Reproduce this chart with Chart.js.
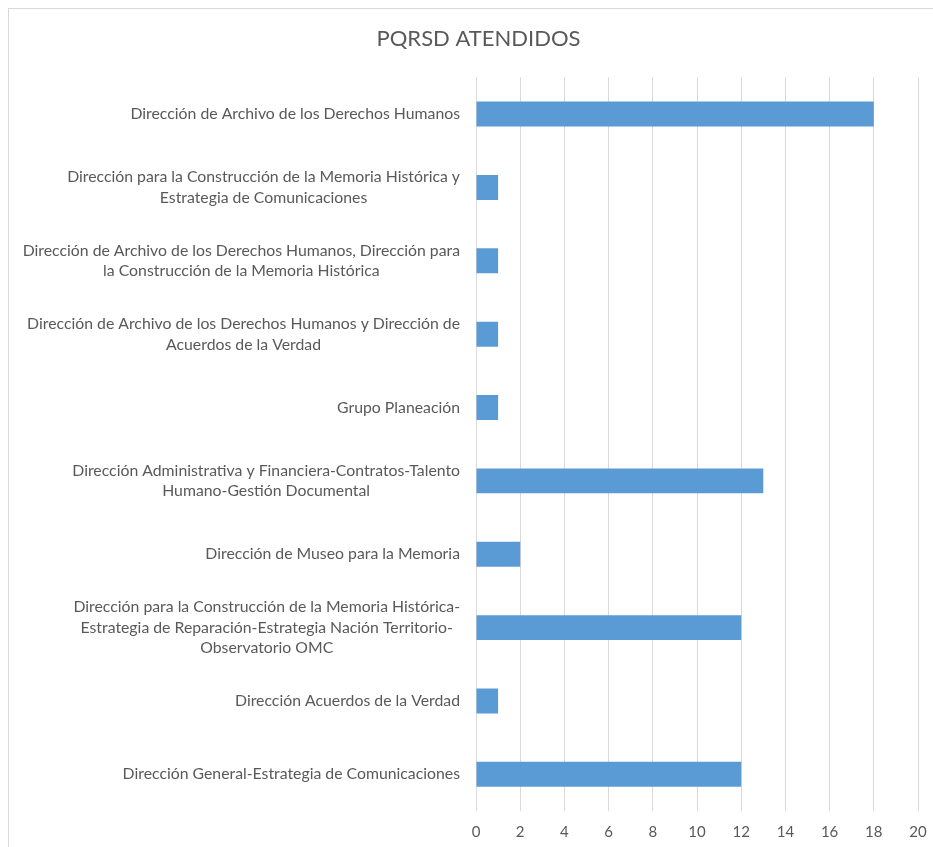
<!DOCTYPE html>
<html lang="es">
<head>
<meta charset="UTF-8">
<title>PQRSD ATENDIDOS</title>
<script src="https://cdn.jsdelivr.net/npm/chart.js"></script>
<style>
  html, body { margin: 0; padding: 0; background: #fff; overflow: hidden; }
  canvas { display: block; }
</style>
</head>
<body>
<canvas id="chart" width="933" height="847"></canvas>
<script>
const chartTitle = 'PQRSD ATENDIDOS';
const categories = [
  ['Dirección de Archivo de los Derechos Humanos'],
  ['Dirección para la Construcción de la Memoria Histórica y', 'Estrategia de Comunicaciones'],
  ['Dirección de Archivo de los Derechos Humanos, Dirección para', 'la Construcción de la Memoria Histórica'],
  ['Dirección de Archivo de los Derechos Humanos y Dirección de', 'Acuerdos de la Verdad'],
  ['Grupo Planeación'],
  ['Dirección Administrativa y Financiera-Contratos-Talento', 'Humano-Gestión Documental'],
  ['Dirección de Museo para la Memoria'],
  ['Dirección para la Construcción de la Memoria Histórica-', 'Estrategia de Reparación-Estrategia Nación Territorio-', 'Observatorio OMC'],
  ['Dirección Acuerdos de la Verdad'],
  ['Dirección General-Estrategia de Comunicaciones']
];
const attended = [18, 1, 1, 1, 1, 13, 2, 12, 1, 12];
const xMin = 0, xMax = 20, xStep = 2;

const textColor = '#595959';
const gridColor = '#d9d9d9';
const barColor = '#5b9bd5';
const fontFamily = 'Lato, "Open Sans", sans-serif';

// outer frame of the chart (cut by the window on the right and bottom)
const framePlugin = {
  id: 'frame',
  beforeDraw(chart) {
    const ctx = chart.ctx;
    ctx.save();
    ctx.fillStyle = '#fff';
    ctx.fillRect(0, 0, chart.width, chart.height);
    ctx.strokeStyle = gridColor;
    ctx.lineWidth = 1;
    ctx.strokeRect(8.5, 8.5, 2000, 2000);
    ctx.restore();
  }
};

// category labels: block right aligned, lines centred within it
const labelPlugin = {
  id: 'catLabels',
  afterDraw(chart) {
    const y = chart.scales.y;
    const ctx = chart.ctx;
    const lineH = 20.5;
    ctx.save();
    ctx.font = '15.8px ' + fontFamily;
    ctx.fillStyle = textColor;
    ctx.textAlign = 'center';
    ctx.textBaseline = 'middle';
    const right = y.right - 16;
    categories.forEach((lines, i) => {
      const cy = y.getPixelForTick(i);
      const w = Math.max(...lines.map(l => ctx.measureText(l).width));
      const cx = right - w / 2;
      const top = cy - (lines.length - 1) * lineH / 2;
      lines.forEach((l, k) => ctx.fillText(l, cx, top + k * lineH));
    });
    ctx.restore();
  }
};

function noScalePadding(scale) {
  scale.paddingLeft = 0;
  scale.paddingRight = 0;
  scale.paddingTop = 0;
  scale.paddingBottom = 0;
}

new Chart(document.getElementById('chart'), {
  type: 'bar',
  data: {
    labels: categories,
    datasets: [{
      data: attended,
      backgroundColor: barColor,
      borderWidth: 0,
      barPercentage: 0.34,
      categoryPercentage: 1
    }]
  },
  options: {
    indexAxis: 'y',
    responsive: false,
    animation: false,
    layout: { padding: { left: 39, right: 15, top: 20, bottom: 7 } },
    plugins: {
      legend: { display: false },
      tooltip: { enabled: false },
      title: {
        display: true,
        text: chartTitle,
        color: textColor,
        font: { family: fontFamily, size: 22, weight: 'normal' },
        padding: { top: 6, bottom: 25 }
      }
    },
    scales: {
      x: {
        min: xMin,
        max: xMax,
        ticks: {
          stepSize: xStep,
          color: textColor,
          padding: 12,
          font: { family: fontFamily, size: 15 }
        },
        grid: { color: gridColor, drawTicks: false },
        border: { display: false },
        afterFit(scale) {
          noScalePadding(scale);
          scale.height = 29;
        }
      },
      y: {
        ticks: { display: false },
        grid: { display: false },
        border: { display: false },
        afterFit(scale) {
          noScalePadding(scale);
          scale.width = 437;
        }
      }
    }
  },
  plugins: [framePlugin, labelPlugin]
});
</script>
</body>
</html>
